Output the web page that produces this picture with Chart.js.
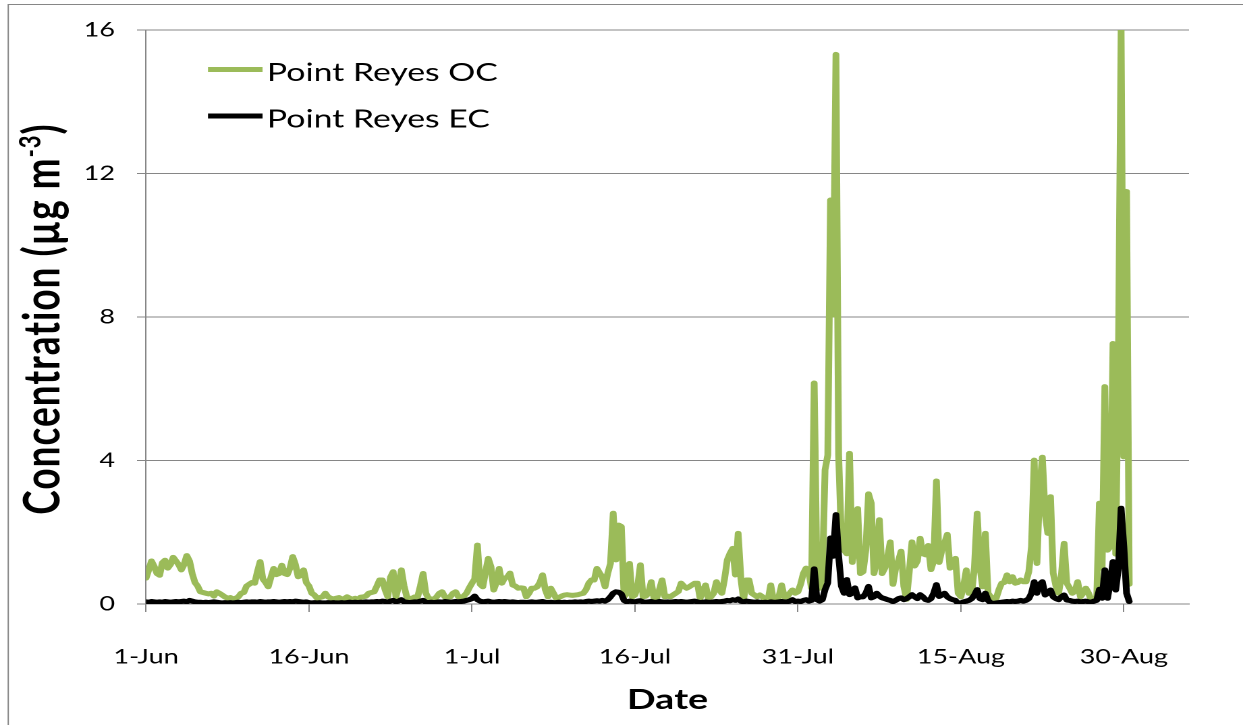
<!DOCTYPE html>
<html>
<head>
<meta charset="utf-8">
<title>Point Reyes OC / EC</title>
<script src="https://cdn.jsdelivr.net/npm/chart.js@4.4.1/dist/chart.umd.min.js"></script>
<style>
    html, body { margin: 0; padding: 0; background: #fff; overflow: hidden; }
    #wrap {
        width: 921px;
        height: 725px;
        transform: scaleX(1.34962);
        transform-origin: 0 0;
    }
    canvas { display: block; }
</style>
</head>
<body>
<div id="wrap"><canvas id="chart" width="921" height="725"></canvas></div>
<script>
// ====== Data ======
// one sample every 6 hours, starting 1-Jun 00:00
const SAMPLE_HOURS = 6;

const seriesLabels = ["Point Reyes OC", "Point Reyes EC"];

const ocValues = [
    0.72, 0.95, 1.2, 1.05, 0.85, 0.8, 1.15, 1.22,
    1.0, 1.1, 1.3, 1.2, 1.1, 0.95, 1.1, 1.35,
    1.2, 0.85, 0.6, 0.5, 0.34, 0.32, 0.3, 0.28,
    0.3, 0.22, 0.34, 0.3, 0.25, 0.2, 0.16, 0.18,
    0.14, 0.16, 0.2, 0.3, 0.32, 0.5, 0.55, 0.6,
    0.58, 0.9, 1.18, 0.7, 0.6, 0.48, 0.75, 0.99,
    0.82, 0.85, 1.08, 0.85, 0.82, 1.0, 1.32, 1.1,
    0.76, 0.8, 0.95, 0.6, 0.5, 0.3, 0.25, 0.16,
    0.18, 0.2, 0.3, 0.2, 0.16, 0.14, 0.16, 0.18,
    0.14, 0.15, 0.2, 0.16, 0.13, 0.16, 0.12, 0.19,
    0.2, 0.22, 0.3, 0.32, 0.34, 0.5, 0.67, 0.67,
    0.4, 0.2, 0.75, 0.9, 0.2, 0.5, 0.95, 0.5,
    0.2, 0.15, 0.16, 0.2, 0.2, 0.5, 0.85, 0.3,
    0.16, 0.14, 0.13, 0.2, 0.3, 0.34, 0.2, 0.18,
    0.2, 0.3, 0.34, 0.2, 0.18, 0.22, 0.3, 0.45,
    0.58, 0.7, 1.64, 0.55, 0.48, 0.9, 1.27, 1.04,
    0.39, 0.6, 0.99, 0.58, 0.72, 0.75, 0.86, 0.53,
    0.5, 0.44, 0.45, 0.44, 0.2, 0.3, 0.44, 0.44,
    0.48, 0.6, 0.81, 0.4, 0.2, 0.44, 0.3, 0.16,
    0.18, 0.22, 0.25, 0.26, 0.25, 0.24, 0.25, 0.26,
    0.28, 0.3, 0.4, 0.58, 0.67, 0.67, 0.99, 0.86,
    0.75, 0.48, 0.86, 1.13, 2.53, 1.23, 2.2, 2.16,
    0.2, 0.3, 1.13, 0.2, 0.25, 0.5, 1.09, 0.2,
    0.22, 0.3, 0.62, 0.16, 0.16, 0.4, 0.67, 0.2,
    0.22, 0.2, 0.25, 0.3, 0.35, 0.58, 0.5, 0.44,
    0.48, 0.53, 0.58, 0.58, 0.16, 0.35, 0.53, 0.16,
    0.2, 0.3, 0.62, 0.4, 0.3, 0.7, 1.23, 1.41,
    1.55, 0.81, 1.97, 0.72, 0.11, 0.67, 0.67, 0.3,
    0.25, 0.2, 0.25, 0.2, 0.11, 0.11, 0.53, 0.11,
    0.11, 0.2, 0.53, 0.2, 0.2, 0.3, 0.39, 0.3,
    0.34, 0.55, 0.85, 1.0, 0.9, 0.44, 6.16, 0.85,
    0.44, 0.75, 3.74, 4.15, 11.26, 8.06, 15.32, 4.15,
    1.83, 1.5, 1.4, 4.2, 1.16, 1.6, 2.66, 0.85,
    0.9, 1.5, 3.07, 2.81, 0.85, 1.2, 2.35, 0.85,
    1.0, 1.3, 1.73, 0.55, 1.0, 1.2, 1.47, 0.49,
    0.13, 0.9, 1.73, 1.06, 1.2, 1.83, 1.4, 1.37,
    1.63, 0.96, 1.2, 3.43, 1.16, 1.5, 1.7, 1.94,
    1.0, 1.04, 1.27, 0.3, 0.2, 0.5, 0.95, 0.3,
    0.3, 1.04, 2.53, 1.04, 0.48, 1.97, 0.3, 0.2,
    0.16, 0.16, 0.4, 0.58, 0.6, 0.81, 0.62, 0.76,
    0.58, 0.6, 0.67, 0.62, 0.62, 0.9, 1.6, 4.01,
    1.13, 3.18, 4.09, 2.53, 1.97, 2.99, 0.86, 0.5,
    0.3, 0.8, 1.69, 0.58, 0.45, 0.3, 0.35, 0.62,
    0.2, 0.3, 0.44, 0.3, 0.11, 0.16, 0.13, 2.81,
    1.0, 6.06, 1.5, 1.6, 7.26, 1.39, 6.95, 16.0,
    4.1, 11.5, 0.55
];

const ecValues = [
    0.06, 0.05, 0.07, 0.06, 0.05, 0.06, 0.05, 0.07,
    0.06, 0.05, 0.06, 0.07, 0.06, 0.07, 0.08, 0.06,
    0.1, 0.08, 0.06, 0.05, 0.05, 0.04, 0.05, 0.04,
    0.05, 0.06, 0.05, 0.04, 0.03, 0.04, 0.03, 0.04,
    0.03, 0.04, 0.05, 0.04, 0.05, 0.06, 0.05, 0.06,
    0.06, 0.05, 0.07, 0.06, 0.05, 0.06, 0.06, 0.07,
    0.06, 0.05, 0.06, 0.07, 0.06, 0.07, 0.06, 0.08,
    0.07, 0.06, 0.05, 0.06, 0.04, 0.03, 0.04, 0.03,
    0.04, 0.03, 0.03, 0.04, 0.03, 0.04, 0.03, 0.03,
    0.04, 0.03, 0.04, 0.05, 0.04, 0.05, 0.04, 0.05,
    0.05, 0.06, 0.05, 0.06, 0.06, 0.07, 0.06, 0.08,
    0.07, 0.05, 0.08, 0.1, 0.06, 0.08, 0.12, 0.06,
    0.05, 0.04, 0.05, 0.06, 0.06, 0.08, 0.1, 0.05,
    0.04, 0.05, 0.04, 0.05, 0.06, 0.05, 0.07, 0.06,
    0.05, 0.06, 0.07, 0.06, 0.07, 0.08, 0.1, 0.12,
    0.15, 0.22, 0.12, 0.08, 0.06, 0.07, 0.08, 0.06,
    0.05, 0.06, 0.07, 0.06, 0.07, 0.06, 0.05, 0.06,
    0.05, 0.04, 0.05, 0.05, 0.04, 0.05, 0.06, 0.05,
    0.05, 0.06, 0.07, 0.05, 0.04, 0.05, 0.04, 0.04,
    0.05, 0.04, 0.05, 0.04, 0.05, 0.05, 0.06, 0.05,
    0.06, 0.05, 0.07, 0.08, 0.07, 0.08, 0.09, 0.08,
    0.1, 0.08, 0.12, 0.2, 0.3, 0.34, 0.33, 0.28,
    0.1, 0.06, 0.08, 0.07, 0.06, 0.08, 0.09, 0.06,
    0.05, 0.06, 0.07, 0.05, 0.05, 0.07, 0.06, 0.05,
    0.06, 0.05, 0.06, 0.07, 0.06, 0.07, 0.06, 0.05,
    0.06, 0.07, 0.08, 0.06, 0.04, 0.05, 0.06, 0.05,
    0.05, 0.06, 0.07, 0.06, 0.07, 0.08, 0.1, 0.09,
    0.12, 0.1, 0.14, 0.08, 0.06, 0.08, 0.07, 0.06,
    0.05, 0.06, 0.05, 0.04, 0.05, 0.04, 0.06, 0.05,
    0.05, 0.06, 0.07, 0.06, 0.06, 0.08, 0.12, 0.07,
    0.08, 0.07, 0.1, 0.12, 0.08, 0.1, 0.98, 0.12,
    0.08, 0.12, 0.4, 0.59, 1.84, 1.33, 2.49, 1.33,
    0.5, 0.3, 0.68, 0.26, 0.3, 0.45, 0.17, 0.2,
    0.2, 0.3, 0.49, 0.17, 0.2, 0.3, 0.22, 0.17,
    0.15, 0.12, 0.1, 0.07, 0.1, 0.15, 0.17, 0.12,
    0.15, 0.2, 0.26, 0.2, 0.15, 0.26, 0.2, 0.12,
    0.1, 0.15, 0.3, 0.54, 0.21, 0.25, 0.3, 0.2,
    0.15, 0.12, 0.1, 0.02, 0.03, 0.06, 0.08, 0.1,
    0.15, 0.25, 0.4, 0.15, 0.12, 0.3, 0.1, 0.03,
    0.02, 0.03, 0.04, 0.05, 0.06, 0.07, 0.06, 0.08,
    0.07, 0.08, 0.1, 0.08, 0.1, 0.15, 0.3, 0.62,
    0.3, 0.55, 0.62, 0.25, 0.3, 0.39, 0.2, 0.15,
    0.12, 0.2, 0.25, 0.11, 0.1, 0.08, 0.07, 0.08,
    0.06, 0.07, 0.08, 0.06, 0.05, 0.08, 0.1, 0.41,
    0.16, 0.95, 0.16, 0.6, 1.18, 0.39, 1.0, 2.67,
    1.6, 0.3, 0.07
];

// days after 1-Jun where the date ticks sit
const tickDays = [0, 15, 30, 45, 60, 75, 90];
const tickLabels = ["1-Jun", "16-Jun", "1-Jul", "16-Jul", "31-Jul", "15-Aug", "30-Aug"];

const yTicks = [0, 4, 8, 12, 16];

(() => {
    "use strict";

    // ====== Styles ======
    const GRAY = "#868686";
    const FONT = "Lato, 'Open Sans', sans-serif";
    const OC_COLOR = "#9bbb59";
    const EC_COLOR = "#000000";
    const LINE_W = 5;

    // ====== Helpers ======
    function toPoints(values) {
        return values.map((v, i) => ({ x: (i * SAMPLE_HOURS) / 24, y: v }));
    }

    // grey frame around the whole figure (left and top edges visible)
    const framePlugin = {
        id: "frame",
        beforeDraw(chart) {
            const ctx = chart.ctx;
            ctx.save();
            ctx.strokeStyle = GRAY;
            ctx.lineWidth = 1;
            ctx.beginPath();
            ctx.moveTo(6.1, chart.height + 2);
            ctx.lineTo(6.1, 4.5);
            ctx.lineTo(chart.width + 2, 4.5);
            ctx.stroke();
            ctx.restore();
        }
    };

    // legend drawn inside the plot, top-left
    const legendPlugin = {
        id: "insideLegend",
        afterDraw(chart) {
            const ctx = chart.ctx;
            ctx.save();
            chart.data.datasets.forEach((ds, i) => {
                const lineY = 69.5 + i * 46.5;
                ctx.strokeStyle = ds.borderColor;
                ctx.lineWidth = 5;
                ctx.lineCap = "butt";
                ctx.beginPath();
                ctx.moveTo(154.1, lineY);
                ctx.lineTo(194.5, lineY);
                ctx.stroke();

                ctx.fillStyle = "#000";
                ctx.font = `25px ${FONT}`;
                ctx.textAlign = "left";
                ctx.textBaseline = "alphabetic";
                ctx.fillText(ds.label, 197.8, lineY + 11.5);
            });
            ctx.restore();
        }
    };

    // rotated y title with superscript
    const yTitlePlugin = {
        id: "yTitle",
        afterDraw(chart) {
            const ctx = chart.ctx;
            const yScale = chart.scales.y;
            const main = "Concentration (\u00b5g m";
            const sup = "-3";
            const end = ")";
            const big = `bold 37px ${FONT}`;
            const small = `bold 22px ${FONT}`;

            ctx.save();
            ctx.translate(44, (yScale.top + yScale.bottom) / 2 + 2);
            ctx.rotate(-Math.PI / 2);
            ctx.fillStyle = "#000";
            ctx.textAlign = "left";
            ctx.textBaseline = "alphabetic";
            ctx.letterSpacing = "1px";

            ctx.font = big;
            const wMain = ctx.measureText(main).width;
            const wEnd = ctx.measureText(end).width;
            ctx.font = small;
            const wSup = ctx.measureText(sup).width;

            const start = -(wMain + wSup + wEnd) / 2;
            ctx.font = big;
            ctx.fillText(main, start, 0);
            ctx.font = small;
            ctx.fillText(sup, start + wMain, -14);
            ctx.font = big;
            ctx.fillText(end, start + wMain + wSup, 0);
            ctx.restore();
        }
    };

    // ====== Chart ======
    const canvas = document.getElementById("chart");

    const lineStyle = {
        borderWidth: LINE_W,
        borderJoinStyle: "round",
        borderCapStyle: "round",
        pointRadius: 0,
        tension: 0
    };

    new Chart(canvas.getContext("2d"), {
        type: "line",
        data: {
            datasets: [
                {
                    ...lineStyle,
                    label: seriesLabels[0],
                    data: toPoints(ocValues),
                    borderColor: OC_COLOR,
                    order: 1
                },
                {
                    ...lineStyle,
                    label: seriesLabels[1],
                    data: toPoints(ecValues),
                    borderColor: EC_COLOR,
                    order: 0
                }
            ]
        },
        options: {
            responsive: false,
            animation: false,
            devicePixelRatio: 2,
            events: [],
            layout: { padding: { left: 0, top: 30, right: 40, bottom: 0 } },
            plugins: {
                legend: { display: false },
                tooltip: { enabled: false }
            },
            scales: {
                x: {
                    type: "linear",
                    min: 0,
                    max: 96,
                    afterBuildTicks(scale) {
                        scale.ticks = tickDays.map((v) => ({ value: v }));
                    },
                    afterFit(scale) {
                        scale.height = 121;
                    },
                    ticks: {
                        callback: (value, index) => tickLabels[index],
                        color: "#000",
                        font: { family: FONT, size: 20 },
                        padding: 33,
                        maxRotation: 0,
                        autoSkip: false
                    },
                    grid: {
                        drawOnChartArea: false,
                        color: GRAY,
                        tickLength: 8
                    },
                    border: { color: GRAY },
                    title: {
                        display: true,
                        text: "Date",
                        color: "#000",
                        font: { family: FONT, size: 28, weight: "bold" },
                        padding: { top: 0, bottom: 8 }
                    }
                },
                y: {
                    min: 0,
                    max: 16,
                    afterBuildTicks(scale) {
                        scale.ticks = yTicks.map((v) => ({ value: v }));
                    },
                    afterFit(scale) {
                        scale.width = 108.2;
                    },
                    ticks: {
                        color: "#000",
                        font: { family: FONT, size: 20 },
                        padding: 16.3
                    },
                    grid: {
                        color: GRAY,
                        tickLength: 6.7
                    },
                    border: { color: GRAY }
                }
            }
        },
        plugins: [framePlugin, legendPlugin, yTitlePlugin]
    });
})();
</script>
</body>
</html>
